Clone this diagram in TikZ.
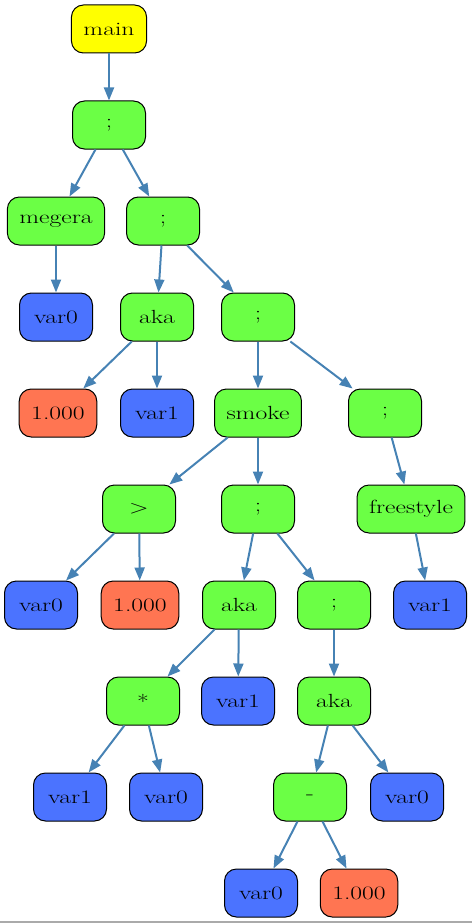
\documentclass[tikz,border=0pt]{standalone}
\usepackage{graphicx}
\usetikzlibrary{arrows.meta}
\definecolor{rootfill}{HTML}{FFFF00}
\definecolor{opfill}{HTML}{6BFF45}
\definecolor{varfill}{HTML}{4B73FF}
\definecolor{numfill}{HTML}{FF7552}
\definecolor{edgeblue}{HTML}{4682B4}
\definecolor{rulegray}{HTML}{AAAAAA}
% labels are set slightly widened
\newcommand\wlbl[1]{\scalebox{1.35}[1]{#1}}
\tikzset{
  tn/.style={draw=black, line width=1pt, rounded corners=12pt,
    minimum width=73pt, minimum height=48pt, inner xsep=12pt,
    font=\fontsize{19}{21}\selectfont, text=black},
  rootn/.style={tn, fill=rootfill},
  opn/.style={tn, fill=opfill},
  varn/.style={tn, fill=varfill},
  numn/.style={tn, fill=numfill},
  edge/.style={draw=edgeblue, line width=2pt,
    -{Triangle[length=13pt, width=10pt]}},
}
\begin{document}
\begin{tikzpicture}[x=1pt, y=-1pt]
\useasboundingbox (0,0) rectangle (472,923);
% nodes
\node[rootn] (main)   at (109,29)  {\wlbl{main}};
\node[opn]   (s1)     at (109,125) {\wlbl{;}};
\node[opn]   (megera) at (56,221)  {\wlbl{megera}};
\node[opn]   (s2)     at (163,221) {\wlbl{;}};
\node[varn]  (v0a)    at (56,317)  {\wlbl{var0}};
\node[opn]   (aka1)   at (157,317) {\wlbl{aka}};
\node[opn]   (s3)     at (258,317) {\wlbl{;}};
\node[numn]  (c1)     at (58,413)  {\wlbl{1.000}};
\node[varn]  (v1a)    at (157,413) {\wlbl{var1}};
\node[opn]   (smoke)  at (258,413) {\wlbl{smoke}};
\node[opn]   (s4)     at (385,413) {\wlbl{;}};
\node[opn]   (gt)     at (139,509) {\wlbl{>}};
\node[opn]   (s5)     at (258,509) {\wlbl{;}};
\node[opn]   (free)   at (411,509) {\wlbl{freestyle}};
\node[varn]  (v0b)    at (41,605)  {\wlbl{var0}};
\node[numn]  (c2)     at (140,605) {\wlbl{1.000}};
\node[opn]   (aka2)   at (239,605) {\wlbl{aka}};
\node[opn]   (s6)     at (334,605) {\wlbl{;}};
\node[varn]  (v1b)    at (430,605) {\wlbl{var1}};
\node[opn]   (star)   at (143,701) {\wlbl{*}};
\node[varn]  (v1c)    at (238,701) {\wlbl{var1}};
\node[opn]   (aka3)   at (334,701) {\wlbl{aka}};
\node[varn]  (v1d)    at (70,797)  {\wlbl{var1}};
\node[varn]  (v0c)    at (166,797) {\wlbl{var0}};
\node[opn]   (minus)  at (310,797) {\wlbl{-}};
\node[varn]  (v0d)    at (407,797) {\wlbl{var0}};
\node[varn]  (v0e)    at (261,893) {\wlbl{var0}};
\node[numn]  (c3)     at (359,893) {\wlbl{1.000}};
% edges
\foreach \a/\b in {main/s1, s1/megera, s1/s2, megera/v0a, s2/aka1, s2/s3,
  aka1/c1, aka1/v1a, s3/smoke, s3/s4, smoke/gt, smoke/s5, s4/free,
  gt/v0b, gt/c2, s5/aka2, s5/s6, free/v1b, aka2/star, aka2/v1c,
  s6/aka3, star/v1d, star/v0c, aka3/minus, aka3/v0d, minus/v0e, minus/c3}
  \draw[edge] (\a) -- (\b);
% bottom rule
\draw[rulegray, line width=1.5pt] (0,922) -- (472,922);
\end{tikzpicture}
\end{document}
